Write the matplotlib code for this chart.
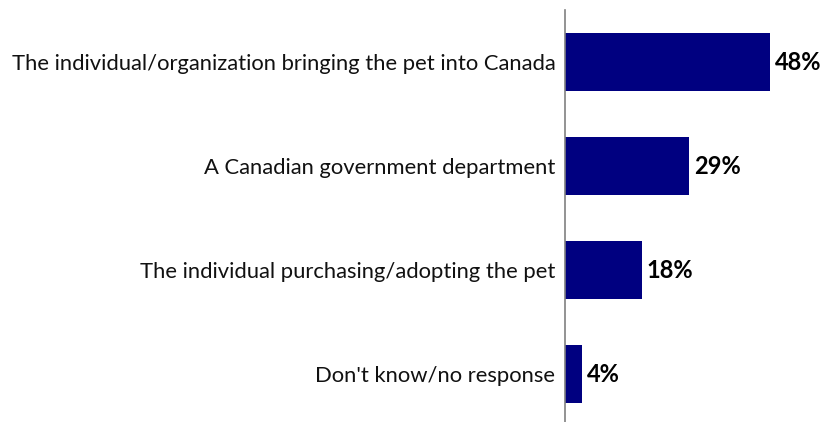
import matplotlib

matplotlib.use("Agg")
import matplotlib.pyplot as plt

categories = [
    "The individual/organization bringing the pet into Canada",
    "A Canadian government department",
    "The individual purchasing/adopting the pet",
    "Don't know/no response",
]
values = [48, 29, 18, 4]

plt.rcParams["font.family"] = ["Lato", "DejaVu Sans"]

fig = plt.figure(figsize=(8.25, 4.22), dpi=100)
ax = fig.add_axes([565 / 825, -4 / 422, 256 / 825, 416 / 422])

pos = list(range(len(categories)))
ax.barh(pos, values, height=0.55, color="#000080")
ax.set_ylim(len(categories) - 0.5, -0.5)
ax.set_xlim(0, 60)

for p, v in zip(pos, values):
    ax.text(v + 1.2, p, f"{v}%", va="center", ha="left",
            fontsize=17, fontweight="bold", color="black")

ax.set_yticks(pos)
ax.set_yticklabels(categories, fontsize=15.8, color="#111111")
ax.tick_params(axis="y", length=0, pad=7)
ax.set_xticks([])

for side in ["top", "right", "bottom"]:
    ax.spines[side].set_visible(False)
ax.spines["left"].set_color("#808080")
ax.spines["left"].set_linewidth(1.2)

fig.savefig("out.png", dpi=100)
